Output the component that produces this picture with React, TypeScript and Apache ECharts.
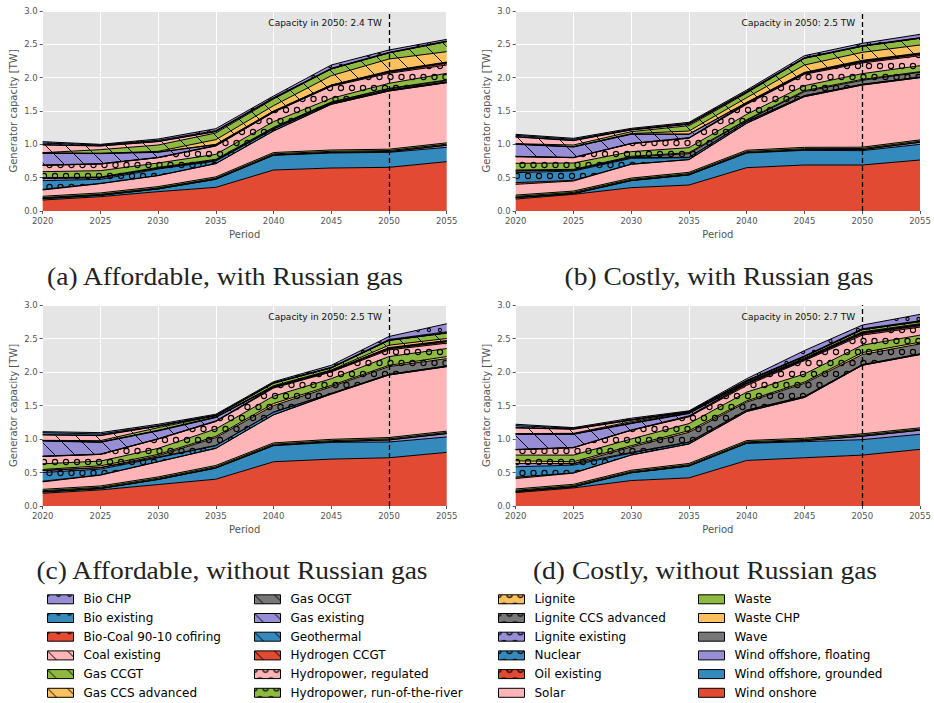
import React, { useEffect, useRef } from 'react';
import * as echarts from 'echarts';

// Model periods on the x axis
const YEARS = ['2020', '2025', '2030', '2035', '2040', '2045', '2050', '2055'];
const MARKED_YEAR = '2050';

// Generator technologies, in stacking order (bottom to top)
const TECH_NAMES = [
  'Wind onshore',
  'Wind offshore, grounded',
  'Wind offshore, floating',
  'Wave',
  'Waste CHP',
  'Waste',
  'Solar',
  'Oil existing',
  'Nuclear',
  'Lignite existing',
  'Lignite CCS advanced',
  'Lignite',
  'Hydropower, run-of-the-river',
  'Hydropower, regulated',
  'Hydrogen CCGT',
  'Geothermal',
  'Gas existing',
  'Gas OCGT',
  'Gas CCS advanced',
  'Gas CCGT',
  'Coal existing',
  'Bio-Coal 90-10 cofiring',
  'Bio existing',
  'Bio CHP',
];

// ---- (a) Affordable, with Russian gas [TW] ----
const aWindOnshore = [0.165, 0.215, 0.29, 0.355, 0.615, 0.645, 0.655, 0.74];
const aWindGrounded = [0.02, 0.02, 0.04, 0.12, 0.22, 0.225, 0.225, 0.215];
const aWindFloating = [0.002, 0.002, 0.002, 0.003, 0.005, 0.008, 0.01, 0.03];
const aWave = [0.002, 0.002, 0.002, 0.002, 0.002, 0.002, 0.002, 0.002];
const aWasteChp = [0.012, 0.012, 0.012, 0.012, 0.015, 0.015, 0.015, 0.015];
const aWaste = [0.02, 0.02, 0.02, 0.02, 0.02, 0.02, 0.02, 0.02];
const aSolar = [0.094, 0.139, 0.164, 0.198, 0.323, 0.685, 0.873, 0.903];
const aOil = [0.01, 0.005, 0.003, 0.002, 0.002, 0.001, 0, 0];
const aNuclear = [0.13, 0.06, 0.097, 0.038, 0.028, 0.014, 0.01, 0.01];
const aLigniteExisting = [0.035, 0.025, 0.01, 0.005, 0.002, 0, 0, 0];
const aLigniteCcs = [0, 0, 0.005, 0.01, 0.013, 0.015, 0.02, 0.02];
const aLignite = [0.01, 0.01, 0.01, 0.01, 0.01, 0.005, 0.01, 0.01];
const aHydroRor = [0.09, 0.095, 0.065, 0.075, 0.085, 0.055, 0.075, 0.1];
const aHydroReg = [0.095, 0.1, 0.08, 0.125, 0.14, 0.18, 0.15, 0.125];
const aHydrogen = [0, 0, 0, 0.005, 0.005, 0.005, 0.015, 0.025];
const aGeothermal = [0.005, 0.005, 0.005, 0.005, 0.005, 0.01, 0.01, 0.01];
const aGasExisting = [0.175, 0.15, 0.075, 0.01, 0.005, 0.002, 0.002, 0.002];
const aGasOcgt = [0.005, 0.005, 0.005, 0.005, 0.005, 0.003, 0.008, 0.008];
const aGasCcs = [0, 0, 0.01, 0.07, 0.08, 0.14, 0.18, 0.155];
const aGasCcgt = [0.005, 0.055, 0.095, 0.1, 0.1, 0.1, 0.09, 0.15];
const aCoal = [0.115, 0.055, 0.05, 0.02, 0.01, 0.002, 0.002, 0.002];
const aBioCoal = [0.005, 0.003, 0.005, 0.005, 0.005, 0.002, 0.003, 0.003];
const aBioExisting = [0.025, 0.012, 0.015, 0.01, 0.005, 0.006, 0.005, 0.005];
const aBioChp = [0.02, 0.01, 0.02, 0.03, 0.025, 0.05, 0.035, 0.025];

// ---- (b) Costly, with Russian gas [TW] ----
const bWindOnshore = [0.18, 0.25, 0.35, 0.39, 0.65, 0.69, 0.69, 0.765];
const bWindGrounded = [0.02, 0.01, 0.105, 0.15, 0.22, 0.22, 0.215, 0.235];
const bWindFloating = [0.002, 0.002, 0.002, 0.003, 0.005, 0.008, 0.015, 0.03];
const bWave = [0.002, 0.002, 0.002, 0.002, 0.002, 0.002, 0.002, 0.002];
const bWasteChp = [0.015, 0.015, 0.015, 0.015, 0.015, 0.015, 0.015, 0.015];
const bWaste = [0.02, 0.02, 0.02, 0.02, 0.02, 0.02, 0.02, 0.02];
const bSolar = [0.161, 0.151, 0.206, 0.19, 0.403, 0.76, 0.933, 0.933];
const bOil = [0.025, 0.01, 0.003, 0.002, 0.002, 0.001, 0, 0];
const bNuclear = [0.15, 0.14, 0.087, 0.028, 0.023, 0.014, 0.01, 0.01];
const bLigniteExisting = [0.025, 0.015, 0.01, 0.005, 0.002, 0, 0, 0];
const bLigniteCcs = [0, 0, 0.01, 0.055, 0.018, 0.06, 0.06, 0.07];
const bLignite = [0.015, 0.01, 0.01, 0.015, 0.01, 0.015, 0.015, 0.01];
const bHydroRor = [0.1, 0.095, 0.07, 0.075, 0.08, 0.075, 0.085, 0.09];
const bHydroReg = [0.1, 0.08, 0.12, 0.14, 0.15, 0.17, 0.16, 0.15];
const bHydrogen = [0, 0, 0, 0.005, 0.01, 0.01, 0.015, 0.02];
const bGeothermal = [0.005, 0.005, 0.005, 0.005, 0.01, 0.01, 0.01, 0.01];
const bGasExisting = [0.18, 0.155, 0.135, 0.05, 0.005, 0.002, 0.002, 0.002];
const bGasOcgt = [0.005, 0.005, 0.005, 0.005, 0.005, 0.008, 0.013, 0.008];
const bGasCcs = [0, 0, 0.005, 0.045, 0.07, 0.11, 0.12, 0.12];
const bGasCcgt = [0.005, 0.025, 0.03, 0.08, 0.07, 0.1, 0.09, 0.1];
const bCoal = [0.1, 0.065, 0.025, 0.02, 0.01, 0.002, 0.002, 0.002];
const bBioCoal = [0.005, 0.005, 0.005, 0.005, 0.005, 0.003, 0.003, 0.003];
const bBioExisting = [0.02, 0.015, 0.005, 0.01, 0.01, 0.005, 0.005, 0.005];
const bBioChp = [0.015, 0.015, 0.015, 0.015, 0.02, 0.03, 0.035, 0.05];

// ---- (c) Affordable, without Russian gas [TW] ----
const cWindOnshore = [0.19, 0.24, 0.32, 0.4, 0.66, 0.7, 0.72, 0.8];
const cWindGrounded = [0.02, 0.02, 0.075, 0.165, 0.24, 0.25, 0.235, 0.23];
const cWindFloating = [0.002, 0.002, 0.002, 0.003, 0.005, 0.008, 0.03, 0.05];
const cWave = [0.002, 0.002, 0.002, 0.002, 0.002, 0.002, 0.002, 0.002];
const cWasteChp = [0.015, 0.015, 0.015, 0.015, 0.015, 0.015, 0.015, 0.015];
const cWaste = [0.02, 0.02, 0.02, 0.02, 0.02, 0.02, 0.02, 0.02];
const cSolar = [0.111, 0.161, 0.226, 0.255, 0.418, 0.675, 0.933, 0.963];
const cOil = [0.01, 0.005, 0.002, 0.002, 0.002, 0.001, 0, 0];
const cNuclear = [0.13, 0.085, 0.058, 0.038, 0.038, 0.009, 0.01, 0.01];
const cLigniteExisting = [0.03, 0.02, 0.01, 0.005, 0.002, 0, 0, 0];
const cLigniteCcs = [0, 0.005, 0.02, 0.115, 0.098, 0.1, 0.115, 0.11];
const cLignite = [0.015, 0.025, 0.02, 0.02, 0.03, 0.02, 0.02, 0.03];
const cHydroRor = [0.085, 0.07, 0.09, 0.11, 0.11, 0.1, 0.13, 0.12];
const cHydroReg = [0.11, 0.1, 0.14, 0.11, 0.12, 0.1, 0.1, 0.08];
const cHydrogen = [0, 0, 0, 0.005, 0.01, 0.01, 0.015, 0.02];
const cGeothermal = [0.005, 0.005, 0.005, 0.005, 0.005, 0.005, 0.01, 0.01];
const cGasExisting = [0.225, 0.175, 0.115, 0.05, 0.005, 0.002, 0.002, 0.002];
const cGasOcgt = [0.005, 0.005, 0.005, 0.005, 0.005, 0.003, 0.008, 0.008];
const cGasCcs = [0, 0, 0.005, 0.005, 0.01, 0.01, 0.035, 0.03];
const cGasCcgt = [0.005, 0.02, 0.04, 0.015, 0.035, 0.03, 0.07, 0.08];
const cCoal = [0.08, 0.075, 0.02, 0.005, 0.005, 0.002, 0.002, 0.002];
const cBioCoal = [0.005, 0.005, 0.005, 0.002, 0.002, 0.003, 0.003, 0.003];
const cBioExisting = [0.03, 0.02, 0.005, 0.003, 0.003, 0.005, 0.01, 0.015];
const cBioChp = [0.015, 0.02, 0.02, 0.015, 0.015, 0.03, 0.045, 0.12];

// ---- (d) Costly, without Russian gas [TW] ----
const dWindOnshore = [0.2, 0.27, 0.38, 0.42, 0.68, 0.72, 0.76, 0.845];
const dWindGrounded = [0.015, 0.015, 0.115, 0.175, 0.255, 0.24, 0.23, 0.225];
const dWindFloating = [0.002, 0.002, 0.002, 0.003, 0.005, 0.015, 0.05, 0.06];
const dWave = [0.002, 0.002, 0.002, 0.002, 0.002, 0.002, 0.002, 0.002];
const dWasteChp = [0.015, 0.015, 0.015, 0.015, 0.015, 0.015, 0.015, 0.015];
const dWaste = [0.02, 0.02, 0.02, 0.02, 0.02, 0.02, 0.02, 0.02];
const dSolar = [0.156, 0.166, 0.226, 0.29, 0.433, 0.608, 1.023, 1.093];
const dOil = [0.02, 0.005, 0.002, 0.002, 0.002, 0.001, 0, 0];
const dNuclear = [0.155, 0.115, 0.028, 0.023, 0.018, 0.014, 0.01, 0.01];
const dLigniteExisting = [0.05, 0.02, 0.01, 0.005, 0.002, 0, 0, 0];
const dLigniteCcs = [0, 0.005, 0.08, 0.145, 0.118, 0.195, 0.15, 0.15];
const dLignite = [0.04, 0.025, 0.02, 0.025, 0.02, 0.02, 0.03, 0.025];
const dHydroRor = [0.085, 0.1, 0.1, 0.105, 0.13, 0.12, 0.11, 0.105];
const dHydroReg = [0.08, 0.11, 0.13, 0.1, 0.1, 0.2, 0.15, 0.12];
const dHydrogen = [0, 0, 0, 0.01, 0.02, 0.01, 0.02, 0.02];
const dGeothermal = [0.005, 0.005, 0.005, 0.005, 0.01, 0.01, 0.01, 0.01];
const dGasExisting = [0.225, 0.195, 0.095, 0.035, 0.005, 0.002, 0.002, 0.002];
const dGasOcgt = [0.005, 0.005, 0.005, 0.005, 0.005, 0.008, 0.008, 0.008];
const dGasCcs = [0, 0, 0.005, 0.005, 0.01, 0.01, 0.01, 0.01];
const dGasCcgt = [0.005, 0.01, 0.02, 0.01, 0.015, 0.02, 0.03, 0.03];
const dCoal = [0.085, 0.06, 0.02, 0.005, 0.003, 0.002, 0.002, 0.002];
const dBioCoal = [0.005, 0.005, 0.005, 0.002, 0.002, 0.003, 0.003, 0.003];
const dBioExisting = [0.03, 0.01, 0.005, 0.003, 0.005, 0.005, 0.01, 0.01];
const dBioChp = [0.02, 0.01, 0.02, 0.01, 0.025, 0.08, 0.055, 0.095];

const SCENARIOS = [
  {
    caption: '(a) Affordable, with Russian gas',
    values: [aWindOnshore, aWindGrounded, aWindFloating, aWave, aWasteChp, aWaste, aSolar, aOil, aNuclear,
      aLigniteExisting, aLigniteCcs, aLignite, aHydroRor, aHydroReg, aHydrogen, aGeothermal, aGasExisting,
      aGasOcgt, aGasCcs, aGasCcgt, aCoal, aBioCoal, aBioExisting, aBioChp],
  },
  {
    caption: '(b) Costly, with Russian gas',
    values: [bWindOnshore, bWindGrounded, bWindFloating, bWave, bWasteChp, bWaste, bSolar, bOil, bNuclear,
      bLigniteExisting, bLigniteCcs, bLignite, bHydroRor, bHydroReg, bHydrogen, bGeothermal, bGasExisting,
      bGasOcgt, bGasCcs, bGasCcgt, bCoal, bBioCoal, bBioExisting, bBioChp],
  },
  {
    caption: '(c) Affordable, without Russian gas',
    values: [cWindOnshore, cWindGrounded, cWindFloating, cWave, cWasteChp, cWaste, cSolar, cOil, cNuclear,
      cLigniteExisting, cLigniteCcs, cLignite, cHydroRor, cHydroReg, cHydrogen, cGeothermal, cGasExisting,
      cGasOcgt, cGasCcs, cGasCcgt, cCoal, cBioCoal, cBioExisting, cBioChp],
  },
  {
    caption: '(d) Costly, without Russian gas',
    values: [dWindOnshore, dWindGrounded, dWindFloating, dWave, dWasteChp, dWaste, dSolar, dOil, dNuclear,
      dLigniteExisting, dLigniteCcs, dLignite, dHydroRor, dHydroReg, dHydrogen, dGeothermal, dGasExisting,
      dGasOcgt, dGasCcs, dGasCcgt, dCoal, dBioCoal, dBioExisting, dBioChp],
  },
];

// ---- styling ----
const PALETTE = ['#E24A33', '#348ABD', '#988ED5', '#777777', '#FBC15E', '#8EBA42', '#FFB5B8'];
// one hatch per block of seven technologies
const HATCHES = ['', 'O', '\\', 'o'];

const FONT = '"DejaVu Sans", sans-serif';
const GRIDS = [
  { left: 42.7, top: 11, width: 404, height: 200 },
  { left: 515.7, top: 11, width: 404.3, height: 200 },
  { left: 42.7, top: 305, width: 404, height: 201 },
  { left: 515.7, top: 305, width: 404.3, height: 201 },
];
const CAPTION_POS = [
  { x: 225, y: 277 },
  { x: 719, y: 277 },
  { x: 232, y: 571 },
  { x: 705, y: 571 },
];
const LEGEND_X = [47, 254, 498, 698];
const LEGEND_TOP = 593.3;

// Builds a repeating tile: flat colour plus a black hatch drawn over it.
function hatchFill(color: string, hatch: string): any {
  if (!hatch) return color;
  const lines = hatch === '\\';
  const w = lines ? 20 : 11;
  const h = lines ? 20 : 22;
  const cv = document.createElement('canvas');
  cv.width = w;
  cv.height = h;
  const ctx = cv.getContext('2d');
  if (!ctx) return color;
  ctx.fillStyle = color;
  ctx.fillRect(0, 0, w, h);
  ctx.strokeStyle = '#000';
  if (lines) {
    ctx.lineWidth = 1;
    for (const k of [-w, 0, w]) {
      ctx.beginPath();
      ctx.moveTo(k, 0);
      ctx.lineTo(k + w, h);
      ctx.stroke();
    }
  } else {
    const r = hatch === 'O' ? 2.6 : 1.6;
    ctx.lineWidth = 1.1;
    const centres = [[0, 0], [w, 0], [0, h], [w, h], [w / 2, h / 2]];
    for (const [cx, cy] of centres) {
      ctx.beginPath();
      ctx.arc(cx, cy, r, 0, Math.PI * 2);
      ctx.stroke();
    }
  }
  return { image: cv.toDataURL(), repeat: 'repeat', imageWidth: w, imageHeight: h };
}

export default function App() {
  const ref = useRef<HTMLDivElement>(null);

  useEffect(() => {
    if (!ref.current) return;
    const chart = echarts.init(ref.current, undefined, { renderer: 'svg' });

    const fills = TECH_NAMES.map((_, k) =>
      hatchFill(PALETTE[k % PALETTE.length], HATCHES[Math.floor(k / PALETTE.length)])
    );

    const grid = GRIDS.map((g) => ({ ...g, show: true, backgroundColor: '#E5E5E5', borderWidth: 0 }));

    const xAxis = GRIDS.map((_, i) => ({
      type: 'category',
      gridIndex: i,
      data: YEARS,
      boundaryGap: false,
      axisLine: { show: false },
      axisTick: { show: true, length: 3, alignWithLabel: true, lineStyle: { color: '#555' } },
      axisLabel: { color: '#555', fontSize: 8.5, fontFamily: FONT, margin: 5 },
      splitLine: { show: true, lineStyle: { color: '#fff', width: 1 } },
      name: 'Period',
      nameLocation: 'middle',
      nameGap: 18,
      nameTextStyle: { color: '#555', fontSize: 10, fontFamily: FONT },
    }));

    const yAxis = GRIDS.map((_, i) => ({
      type: 'value',
      gridIndex: i,
      min: 0,
      max: 3,
      interval: 0.5,
      axisLine: { show: false },
      axisTick: { show: true, length: 3, lineStyle: { color: '#555' } },
      axisLabel: {
        color: '#555',
        fontSize: 8.5,
        fontFamily: FONT,
        margin: 5,
        formatter: (v: number) => v.toFixed(1),
      },
      splitLine: { show: true, lineStyle: { color: '#fff', width: 1 } },
      name: 'Generator capacity [TW]',
      nameLocation: 'middle',
      nameGap: 24,
      nameTextStyle: { color: '#555', fontSize: 10, fontFamily: FONT },
    }));

    const areaSeries: any[] = [];
    const edgeSeries: any[] = [];
    SCENARIOS.forEach((sc, i) => {
      sc.values.forEach((vals, k) => {
        areaSeries.push({
          type: 'line',
          name: TECH_NAMES[k],
          xAxisIndex: i,
          yAxisIndex: i,
          stack: 'area' + i,
          data: vals,
          symbol: 'none',
          showSymbol: false,
          silent: true,
          z: 2,
          lineStyle: { width: 0 },
          areaStyle: { color: fills[k], opacity: 1 },
          itemStyle: { color: fills[k] },
          emphasis: { disabled: true },
        });
        edgeSeries.push({
          type: 'line',
          name: TECH_NAMES[k],
          xAxisIndex: i,
          yAxisIndex: i,
          stack: 'edge' + i,
          data: vals,
          symbol: 'none',
          showSymbol: false,
          silent: true,
          z: 3,
          lineStyle: { color: '#000', width: 1 },
          emphasis: { disabled: true },
          markLine:
            k === TECH_NAMES.length - 1
              ? {
                  silent: true,
                  symbol: ['none', 'none'],
                  label: { show: false },
                  lineStyle: { color: '#000', type: [5, 3], width: 1.3 },
                  data: [{ xAxis: MARKED_YEAR }],
                }
              : undefined,
        });
      });
    });

    const sortedNames = [...TECH_NAMES].sort();
    const legend = LEGEND_X.map((x, c) => ({
      orient: 'vertical',
      left: x,
      top: LEGEND_TOP,
      height: 130,
      padding: 0,
      itemWidth: 26,
      itemHeight: 9,
      itemGap: 6.7,
      icon: 'rect',
      selectedMode: false,
      textStyle: { fontFamily: FONT, fontSize: 12, color: '#000', lineHeight: 12, padding: [0, 0, 0, 5] },
      data: sortedNames.slice(c * 6, c * 6 + 6).map((n) => {
        const k = TECH_NAMES.indexOf(n);
        return { name: n, itemStyle: { color: fills[k], borderColor: '#000', borderWidth: 1 } };
      }),
    }));

    chart.setOption({
      animation: false,
      grid,
      xAxis,
      yAxis,
      legend,
      series: [...areaSeries, ...edgeSeries],
    });

    // captions and the 2050 capacity notes
    const yearIdx = YEARS.indexOf(MARKED_YEAR);
    const graphic: any[] = [];
    SCENARIOS.forEach((sc, i) => {
      const total = sc.values.reduce((s, v) => s + v[yearIdx], 0);
      const p = chart.convertToPixel({ gridIndex: i } as any, [yearIdx, 3]) as number[];
      graphic.push({
        type: 'text',
        x: p[0] - 7,
        y: p[1] + 12,
        z: 10,
        style: {
          text: `Capacity in ${MARKED_YEAR}: ${total.toFixed(1)} TW`,
          font: `9px ${FONT}`,
          fill: '#111',
          align: 'right',
          textAlign: 'right',
          verticalAlign: 'middle',
          textVerticalAlign: 'middle',
        },
      });
      graphic.push({
        type: 'text',
        x: CAPTION_POS[i].x,
        y: CAPTION_POS[i].y,
        scaleX: 1.1,
        style: {
          text: sc.caption,
          font: '25px "Liberation Serif", serif',
          fill: '#222',
          align: 'center',
          textAlign: 'center',
          verticalAlign: 'middle',
          textVerticalAlign: 'middle',
        },
      });
    });
    chart.setOption({ graphic });

    return () => chart.dispose();
  }, []);

  return (
    <div
      ref={ref}
      style={{ position: 'absolute', left: 0, top: 0, width: 934, height: 703, background: '#fff' }}
    />
  );
}
